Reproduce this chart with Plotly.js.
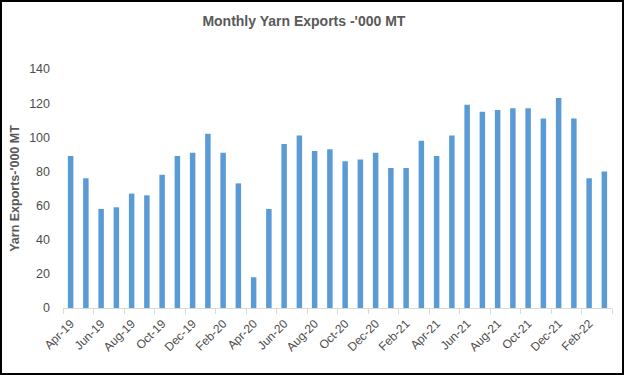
<!DOCTYPE html>
<html><head><meta charset="utf-8">
<script src="https://cdn.plot.ly/plotly-3.0.1.min.js"></script>
<style>
html,body{margin:0;padding:0;background:#fff;}
#wrap{position:relative;width:624px;height:375px;}
#chart{position:absolute;left:0;top:0;width:624px;height:375px;}
#frame{position:absolute;left:0;top:0;width:624px;height:375px;box-sizing:border-box;border:2px solid #000;pointer-events:none;}
</style></head>
<body><div id="wrap"><div id="chart"></div><div id="frame"></div></div>
<script>
const months = ["Apr-19","May-19","Jun-19","Jul-19","Aug-19","Sep-19","Oct-19","Nov-19","Dec-19","Jan-20","Feb-20","Mar-20",
"Apr-20","May-20","Jun-20","Jul-20","Aug-20","Sep-20","Oct-20","Nov-20","Dec-20","Jan-21","Feb-21","Mar-21",
"Apr-21","May-21","Jun-21","Jul-21","Aug-21","Sep-21","Oct-21","Nov-21","Dec-21","Jan-22","Feb-22","Mar-22"];
const exportsKMT = [89,76,58,59,67,66,78,89,91,102,91,73,
18,58,96,101,92,93,86,87,91,82,82,98,
89,101,119,115,116,117,117,111,123,111,76,80];
const titleText = "Monthly Yarn Exports -'000 MT";
const yTitleText = "Yarn Exports-'000 MT";

const font = "Liberation Sans, Arial, sans-serif";
Plotly.newPlot("chart", [{
  type: "bar", x: months, y: exportsKMT,
  marker: {color: "#5B9BD5"}, width: 0.36, hoverinfo: "x+y"
}], {
  width: 624, height: 375,
  margin: {l: 62.5, r: 12, t: 69, b: 67},
  paper_bgcolor: "#fff", plot_bgcolor: "#fff",
  showlegend: false,
  title: {text: "<b>" + titleText + "</b>", font: {family: font, size: 14, color: "#595959"},
          xref: "container", yref: "container", x: 0.487, y: 0.944, xanchor: "center", yanchor: "middle"},
  xaxis: {type: "category", tickmode: "linear", tick0: 0, dtick: 2, tickson: "boundaries",
          ticks: "outside", ticklen: 5, tickcolor: "#d9d9d9", ticklabelstandoff: 3,
          showline: true, linecolor: "#d9d9d9", linewidth: 1, showgrid: false,
          tickangle: -45, tickfont: {family: font, size: 12, color: "#4d4d4d"}},
  yaxis: {range: [0, 140], dtick: 20, showgrid: false, zeroline: false, showline: false,
          ticks: "", ticklabelstandoff: 12,
          tickfont: {family: font, size: 12.5, color: "#4d4d4d"},
          title: {text: "<b>" + yTitleText + "</b>", font: {family: font, size: 12.5, color: "#595959"}, standoff: 6}}
}, {staticPlot: true});
</script></body></html>
